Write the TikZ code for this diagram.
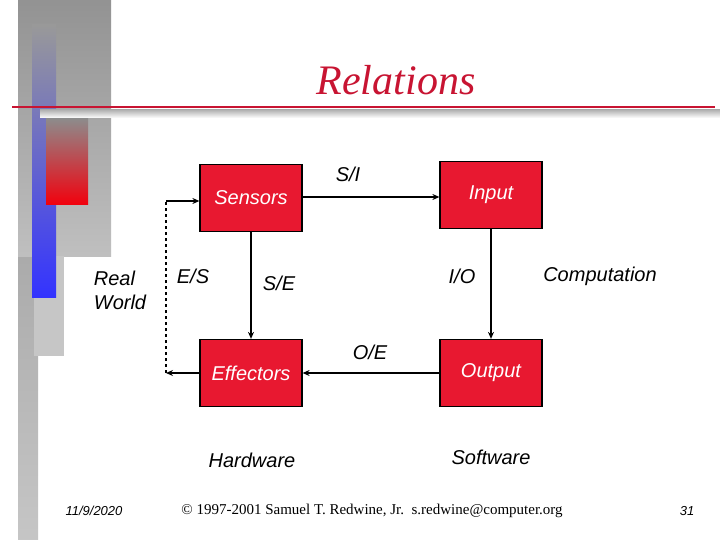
\documentclass[tikz,border=0pt]{standalone}
\usepackage{fontspec}
\setmainfont{Liberation Serif}
\newfontfamily\arialf{Liberation Sans}
\usetikzlibrary{arrows.meta}
\definecolor{boxred}{RGB}{232,24,48}
\definecolor{linered}{RGB}{200,20,50}
\tikzset{
  blk/.style={draw=black,line width=1.2pt,fill=boxred,minimum width=102pt,minimum height=67pt,inner sep=0pt,font=\arialf\itshape\fontsize{20}{24}\selectfont,text=white},
  lbl/.style={font=\arialf\itshape\fontsize{20}{24}\selectfont,text=black,inner sep=0pt},
  conn/.style={line width=1.2pt,-{Stealth[length=7pt,width=6pt]}},
}
\begin{document}
\begin{tikzpicture}[x=1pt,y=-1pt]
\useasboundingbox (0,0) rectangle (720,540);
\fill[white] (0,0) rectangle (720,540);
% decoration
\shade[top color=gray!85,bottom color=gray!45] (18,0) rectangle (38,540);
\shade[top color=gray!85,bottom color=gray!50] (18,0) rectangle (111,256);
\fill[gray!45] (34,256) rectangle (64,356);
\shade[top color=gray!80,bottom color=blue!80] (32,25) rectangle (56,297);
\shade[top color=gray!90,bottom color=red!95!blue] (46,118) rectangle (88,205);
\shade[top color=gray!60,bottom color=white] (40,110) rectangle (720,118);
\draw[linered,line width=1.5pt] (12,107) -- (715,107);
\node[font=\itshape\fontsize{42}{48}\selectfont,text=linered,anchor=base] (title) at (396,95) {Relations};
% boxes
\node[blk] (sen) at (251,198) {Sensors};
\node[blk] (inp) at (491,195) {Input};
\node[blk] (eff) at (251,373) {Effectors};
\node[blk] (out) at (491,373) {Output};
\coordinate (dt) at (166,201);
\coordinate (db) at (166,373);
\draw[conn] (sen.east |- 0,197) -- (inp.west |- 0,197);
\draw[conn] (sen.south) -- (eff.north);
\draw[conn] (inp.south) -- (out.north);
\draw[conn] (out.west) -- (eff.east);
\draw[conn] (eff.west) -- (db);
\draw[line width=1.2pt,dashed] (db) -- (dt);
\draw[conn] (dt) -- (sen.west |- dt);
% labels
\node[lbl] (si) at (348,174) {S/I};
\node[lbl] (se) at (279,283) {S/E};
\node[lbl] (es) at (193,276) {E/S};
\node[lbl] (io) at (462,276) {I/O};
\node[lbl] (oe) at (370,352) {O/E};
\node[lbl,align=left] (rw) at (120,290) {Real\\World};
\node[lbl] (comp) at (600,276) {Computation};
\node[lbl] (hw) at (252,460) {Hardware};
\node[lbl] (sw) at (491,457) {Software};
% footer
\node[font=\arialf\itshape\fontsize{13}{15}\selectfont] (date) at (94,511) {11/9/2020};
\node[font=\fontsize{15}{18}\selectfont] (copy) at (372,511) {© 1997-2001 Samuel T. Redwine, Jr.\ \ s.redwine@computer.org};
\node[font=\arialf\itshape\fontsize{13}{15}\selectfont] (pg) at (687,511) {31};
\end{tikzpicture}
\end{document}
